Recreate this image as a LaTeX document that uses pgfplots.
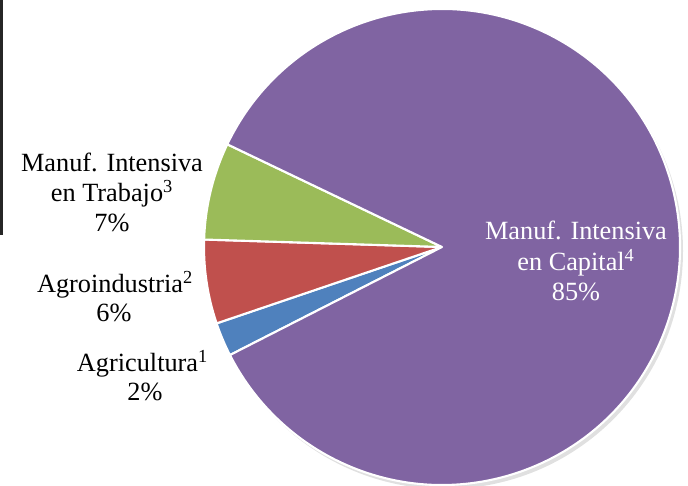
\documentclass[border=0pt]{standalone}
\usepackage{pgfplots}
\pgfplotsset{compat=1.18}
\usepackage{pgfplotstable}
\usepackage{fontspec}
\setmainfont{Liberation Serif}

\definecolor{slice0}{HTML}{4F81BD}
\definecolor{slice1}{HTML}{C0504D}
\definecolor{slice2}{HTML}{9BBB59}
\definecolor{slice3}{HTML}{8064A2}

% share of each sector, %, clockwise from Agricultura
\pgfplotstableread{
idx value
0 2.3
1 5.7
2 6.6
3 85.4
}\piedata

\begin{document}
\begin{tikzpicture}
\begin{axis}[
    scale only axis,
    width=17.2cm, height=12.15cm,
    xmin=0, xmax=688, ymin=0, ymax=486,
    hide axis,
]
\path (axis cs:0,0) rectangle (axis cs:688,486);
\def\cx{442}\def\cy{239}\def\r{238}
% soft shadow
\fill[black!12] (axis cs:445,235) circle[radius=\r];
\pgfmathsetmacro{\start}{207}
\pgfplotsforeachungrouped \i in {0,...,3}{%
    \pgfplotstablegetelem{\i}{value}\of\piedata
    \pgfmathsetmacro{\stop}{\start-3.6*\pgfplotsretval}
    \pgfmathsetmacro{\xa}{\cx+\r*cos(\start)}
    \pgfmathsetmacro{\ya}{\cy+\r*sin(\start)}
    \edef\slice{\noexpand\fill[slice\i, draw=white, line width=1.5pt, line join=round]
        (axis cs:\cx,\cy) -- (axis cs:\xa,\ya)
        arc[start angle=\start, end angle=\stop, radius=\r] -- cycle;}
    \slice
    \global\let\start\stop
}

\addplot[black!85, line width=2.2pt] coordinates {(1.1,486) (1.1,251)};

\begin{scope}[every node/.style={anchor=base, font=\fontsize{18.7}{22}\selectfont}]
\node at (axis cs:112,314.3) {Manuf. Intensiva};
\node at (axis cs:112,284.3) {en Trabajo\textsuperscript{3}};
\node at (axis cs:112,254.3) {7\%};
\node at (axis cs:115,193.3) {Agroindustria\textsuperscript{2}};
\node at (axis cs:114,164.3) {6\%};
\node at (axis cs:142.5,114.3) {Agricultura\textsuperscript{1}};
\node at (axis cs:145,85) {2\%};
\node[text=white] at (axis cs:576,246.7) {Manuf. Intensiva};
\node[text=white] at (axis cs:576,215.3) {en Capital\textsuperscript{4}};
\node[text=white] at (axis cs:576,185) {85\%};
\end{scope}
\end{axis}
\end{tikzpicture}
\end{document}
